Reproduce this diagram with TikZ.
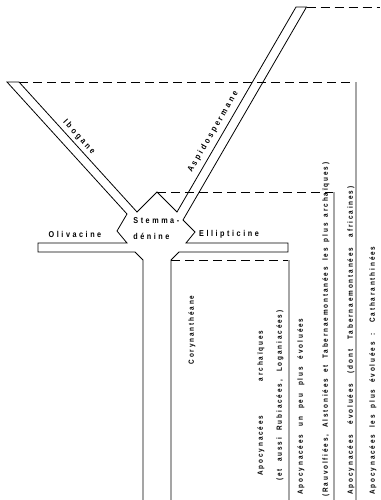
\documentclass[tikz,border=0pt]{standalone}
\usepackage{fontspec}
\newfontfamily\labfont[FakeStretch=0.85,LetterSpace=30]{Liberation Sans}
\newfontfamily\colfont[FakeStretch=0.85,LetterSpace=25,WordSpace=1.3]{Liberation Sans}
\newcommand\spread[2]{\makebox[#1pt][s]{#2}}
\usetikzlibrary{positioning}

\begin{document}
\begin{tikzpicture}[x=1pt,y=-1pt,line width=0.8pt,
  lab/.style={font=\labfont\bfseries\fontsize{8.5}{9}\selectfont,inner sep=0pt},
  col/.style={font=\colfont\bfseries\fontsize{7.5}{8}\selectfont,inner sep=0pt,rotate=90,anchor=west},
  lvl/.style={dash pattern=on 9pt off 5pt},
  bound/.style={draw=gray!70,line width=1.3pt}]
\useasboundingbox (0,0) rectangle (380,500);

% branch ends and the star
\coordinate (ib1) at (7,82);
\coordinate (ib2) at (19,82);
\coordinate (as1) at (296,7);
\coordinate (as2) at (306.5,7);
\coordinate (ibin) at (137,212);
\coordinate (peak) at (157,192);
\coordinate (asin) at (177,212);
\coordinate (ibout) at (127,214);
\coordinate (ltip) at (117,231);
\coordinate (lband) at (127,243);
\coordinate (asout) at (183,220);
\coordinate (rtip) at (195,232);
\coordinate (rband) at (186,243);
\coordinate (stl) at (143,260);
\coordinate (str) at (171,260);

\draw (ib2) -- (ibin) -- (peak) -- (asin) -- (as1) -- (as2) -- (asout)
  -- (rtip) -- (rband) -- (288,243) -- (288,252) -- (179,252) -- (str) -- (171,500);
\draw (ib2) -- (ib1) -- (ibout) -- (ltip) -- (lband) -- (38,243) -- (38,252)
  -- (135,252) -- (stl) -- (143,500);

% levels
\coordinate (asend) at (380,7);
\coordinate (ibend) at (356,82);
\coordinate (stend) at (334,192);
\coordinate (coend) at (289,260);
\draw[lvl] (as2) -- (asend);
\foreach \from/\to/\x in {ib2/ibend/356,peak/stend/334,str/coend/289}{
  \draw[lvl] (\from) -- (\to);
  \draw[bound] (\to) -- (\x,500);
}

\node[lab] (oli) at (75,234) {Olivacine};
\node[lab] (ell) at (229,234) {Ellipticine};
\node[lab,anchor=west] (stem1) at (133,221) {Stemma-};
\node[lab,anchor=west] (stem2) at (133,236) {dénine};
\node[lab,rotate=-47.5] (ibo) at (79,137) {Ibogane};
\node[lab,rotate=59.7] (asp) at (213,132) {Aspidospermane};
\node[col,anchor=center] (cor) at (192,330) {Corynanthéane};

\node[col] (c1) at (261,476) {\spread{145}{Apocynacées archaïques}};
\node[col] (c2) at (280,481) {\spread{170}{(et aussi Rubiacées, Loganiacées)}};
\node[col] (c3) at (301,495) {\spread{176}{Apocynacées un peu plus évoluées}};
\node[col] (c4) at (326,497) {\spread{334}{(Rauvolfiées, Alstoniées et Tabernaemontanées les plus archaïques)}};
\node[col] (c5) at (351,495) {\spread{308}{Apocynacées évoluées (dont Tabernaemontanées africaines)}};
\node[col] (c6) at (373,495) {\spread{248}{Apocynacées les plus évoluées : Catharanthinées}};
\end{tikzpicture}
\end{document}
